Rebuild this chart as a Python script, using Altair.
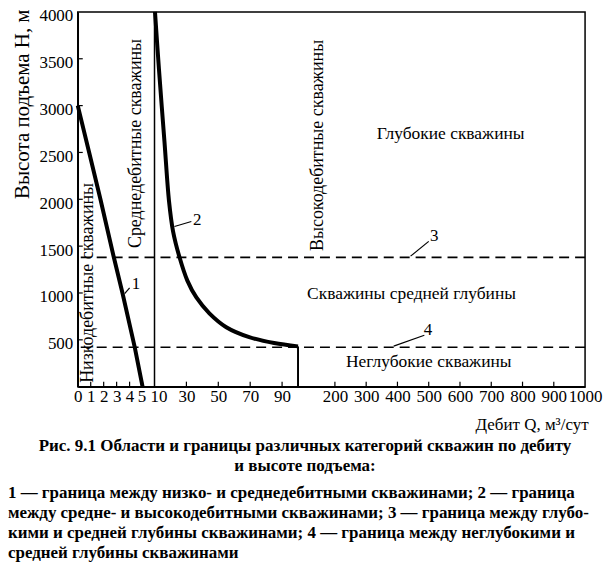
import altair as alt
import pandas as pd

FONT = "Liberation Serif"
W, H = 509, 376

# ---- axis definition (broken / piecewise discharge axis) ----
q_breaks = [0, 5, 10, 100, 200, 1000]
q_break_px = [0, 65, 77, 221, 258, 509]
q_ticks = [0, 1, 2, 3, 4, 5, 10, 30, 50, 70, 90, 200, 300, 400, 500, 600, 700, 800, 900, 1000]
q_inner_ticks = [1, 2, 3, 4, 5, 30, 50, 70, 90, 200, 300, 400, 500, 600, 700, 800, 900]
h_ticks = [500, 1000, 1500, 2000, 2500, 3000, 3500, 4000]
h_inner_ticks = [500, 1000, 1500, 2000, 2500, 3000, 3500]

# ---- curve 1: low / medium rate boundary ----
c1_q = [0, 0.88, 1.75, 2.75, 3.45, 4.4, 5.0]
c1_h = [3000, 2500, 2000, 1400, 1000, 420, 0]

# ---- curve 2: medium / high rate boundary ----
c2_q = [10.3, 12.8, 16.25, 19.1, 21.6, 25.6, 30.6, 36.25, 44.4, 55, 69.4, 85, 100]
c2_h = [4000, 3386, 2614, 1979, 1661, 1386, 1132, 952, 783, 635, 529, 466, 430]

# ---- other boundaries ----
q_low_med = 10
q_high_end = 100
h_high_end = 430
h_deep = 1380
h_shallow = 420

# ---- numbered leaders ----
lead_q1 = [3.62, 22.5, 442, 388]
lead_h1 = [992, 1710, 1393, 433]
lead_q2 = [4.0, 33.1, 500, 486]
lead_h2 = [1055, 1763, 1551, 549]
num_txt = ["1", "2", "3", "4"]
num_q = [4.5, 36.8, 518, 498]
num_h = [1100, 1775, 1610, 605]

# ---- region labels ----
vlab_txt = ["Низкодебитные скважины", "Среднедебитные скважины", "Высокодебитные скважины"]
vlab_q = [0.77, 4.46, 154]
vlab_h = [1108, 2596, 2575]
hlab_txt = ["Глубокие скважины", "Скважины средней глубины", "Неглубокие скважины"]
hlab_q = [570, 445, 500]
hlab_h = [2702, 992, 264]

cap_title = ["Рис. 9.1 Области и границы различных категорий скважин по дебиту",
             "и высоте подъема:"]
cap_body = ["1 — граница между низко- и среднедебитными скважинами; 2 — граница",
            "между средне- и высокодебитными скважинами; 3 — граница между глубо-",
            "кими и средней глубины скважинами; 4 — граница между неглубокими и",
            "средней глубины скважинами"]

xscale = alt.Scale(domain=q_breaks, range=q_break_px, nice=False, zero=False)
yscale = alt.Scale(domain=[0, 4000], nice=False)
xaxis = alt.Axis(values=q_ticks, format="d",
                 labelOffset={"condition": [{"test": "datum.value == 10", "value": 4},
                                            {"test": "datum.value == 5", "value": -1}],
                              "value": 0},
                 title="Дебит Q, м³/сут", labelFontSize=17,
                 labelPadding=2, labelOverlap=False, labelFlush=False, labelBound=False,
                 titleFontSize=17, titleFontWeight="normal", titleAnchor="end",
                 titleAlign="right", titleX=W + 3, titleY=43, titleBaseline="alphabetic")
yaxis = alt.Axis(values=h_ticks, format="d", title="Высота подъема H, м", labelFontSize=17,
                 labelPadding=5, labelOffset=4, labelOverlap=False, labelBound=False,
                 labelFlush=False,
                 titleFontSize=21, titleFontWeight="normal", titleAngle=270,
                 titleAlign="right", titleX=-45, titleY=-3, titleBaseline="bottom")


def X(f):
    return alt.X(f, type="quantitative", scale=xscale, axis=xaxis)


def Y(f):
    return alt.Y(f, type="quantitative", scale=yscale, axis=yaxis)


c1 = pd.DataFrame({"q": c1_q, "h": c1_h})
c2 = pd.DataFrame({"q": c2_q, "h": c2_h})

curve1 = alt.Chart(c1).mark_line(color="black", strokeWidth=4).encode(x=X("q"), y=Y("h"))
curve2 = alt.Chart(c2).mark_line(color="black", strokeWidth=4, interpolate="catmull-rom").encode(
    x=X("q"), y=Y("h"))

vline10 = alt.Chart(pd.DataFrame({"q": [q_low_med], "h": [0], "h2": [4000]})).mark_rule(
    color="black", strokeWidth=1.5).encode(x=X("q"), y=Y("h"), y2="h2")
vline100 = alt.Chart(pd.DataFrame({"q": [q_high_end], "h": [0], "h2": [h_high_end]})).mark_rule(
    color="black", strokeWidth=2).encode(x=X("q"), y=Y("h"), y2="h2")

dashed = alt.Chart(pd.DataFrame({"h": [h_deep, h_shallow]})).mark_rule(
    color="black", strokeWidth=1.6, strokeDash=[10, 6]).encode(y=Y("h"))

leaders = alt.Chart(pd.DataFrame({"q": lead_q1, "h": lead_h1, "q2": lead_q2, "h2": lead_h2})).mark_rule(
    color="black", strokeWidth=1.2).encode(x=X("q"), y=Y("h"), x2="q2", y2="h2")
nums = alt.Chart(pd.DataFrame({"t": num_txt, "q": num_q, "h": num_h})).mark_text(
    font=FONT, fontSize=17, align="center", baseline="middle", color="black").encode(
    x=X("q"), y=Y("h"), text="t")

vlabels = alt.Chart(pd.DataFrame({"t": vlab_txt, "q": vlab_q, "h": vlab_h})).mark_text(
    font=FONT, fontSize=18, angle=270, align="center", baseline="middle", color="black").encode(
    x=X("q"), y=Y("h"), text="t")
hlabels = alt.Chart(pd.DataFrame({"t": hlab_txt, "q": hlab_q, "h": hlab_h})).mark_text(
    font=FONT, fontSize=17.5, align="center", baseline="middle", color="black").encode(
    x=X("q"), y=Y("h"), text="t")

xt = alt.Chart(pd.DataFrame({"q": q_inner_ticks})).mark_rule(color="black", strokeWidth=1.2).encode(
    x=X("q"), y=alt.value(H - 5), y2=alt.value(H))
yt = alt.Chart(pd.DataFrame({"h": h_inner_ticks})).mark_rule(color="black", strokeWidth=1.2).encode(
    y=Y("h"), x=alt.value(0), x2=alt.value(5))

caps = []
for i, t in enumerate(cap_title):
    caps.append(alt.Chart(pd.DataFrame({"t": [t]})).mark_text(
        font=FONT, fontSize=17, fontWeight="bold", align="center", baseline="middle",
        color="black").encode(x=alt.value(228), y=alt.value(436 + 20 * i), text="t"))
for i, t in enumerate(cap_body):
    caps.append(alt.Chart(pd.DataFrame({"t": [t]})).mark_text(
        font=FONT, fontSize=17, fontWeight="bold", align="left", baseline="middle",
        color="black").encode(x=alt.value(-70), y=alt.value(483 + 20 * i), text="t"))

chart = alt.layer(
    vline10, vline100, dashed, xt, yt, curve1, curve2, leaders, nums, vlabels, hlabels, *caps
).properties(
    width=W, height=H,
    autosize=alt.AutoSizeParams(type="none"),
    padding={"left": 70, "top": 3, "right": 20, "bottom": 178},
).configure_view(
    stroke="black", strokeWidth=1.5
).configure_axis(
    labelFont=FONT, titleFont=FONT, labelColor="black", titleColor="black",
    grid=False, ticks=False, domainColor="black", domainWidth=1.5
).configure_text(font=FONT)

chart.save("out.html", embed_options={"renderer": "svg", "actions": False})
